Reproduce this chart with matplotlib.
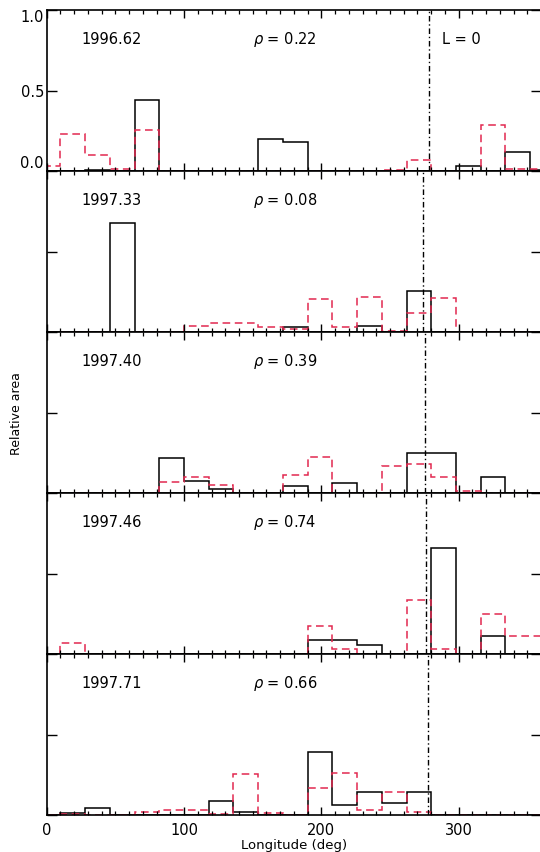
import numpy as np
import matplotlib
matplotlib.use("Agg")
import matplotlib.pyplot as plt

# longitude bin edges (deg), 18 deg bins
edges = [-8, 10, 28, 46, 64, 82, 100, 118, 136, 154, 172, 190, 208,
         226, 244, 262, 280, 298, 316, 334, 352, 370]

dates = ["1996.62", "1997.33", "1997.40", "1997.46", "1997.71"]
rho = ["0.22", "0.08", "0.39", "0.74", "0.66"]
lzero = [278.5, 274.0, 275.5, 276.0, 278.0]

black_1 = [0, 0, 0.01, 0, 0.445, 0, 0, 0, 0, 0.198, 0.184, 0, 0, 0, 0, 0, 0, 0.035, 0, 0.122, 0.005]
red_1 = [0.03, 0.229, 0.102, 0.016, 0.255, 0, 0, 0, 0, 0, 0, 0, 0, 0, 0.01, 0.067, 0, 0, 0.29, 0.016, 0.016]

black_2 = [0, 0, 0, 0.678, 0, 0, 0, 0, 0, 0, 0.035, 0, 0, 0.037, 0, 0.254, 0, 0, 0, 0, 0]
red_2 = [0, 0, 0, 0, 0, 0, 0.041, 0.054, 0.054, 0.035, 0.02, 0.207, 0.031, 0.221, 0.01, 0.118, 0.21, 0, 0, 0, 0]

black_3 = [0, 0, 0, 0, 0, 0.22, 0.078, 0.027, 0, 0, 0.043, 0, 0.061, 0, 0, 0.251, 0.251, 0, 0.098, 0, 0]
red_3 = [0, 0, 0, 0, 0, 0.071, 0.102, 0.053, 0, 0, 0.114, 0.224, 0, 0, 0.169, 0.18, 0.102, 0.012, 0, 0, 0]

black_4 = [0, 0, 0, 0, 0, 0, 0, 0, 0, 0, 0, 0.0875, 0.0875, 0.058, 0, 0, 0.66, 0, 0.115, 0, 0]
red_4 = [0, 0.069, 0, 0, 0, 0, 0, 0, 0, 0, 0, 0.173, 0.031, 0, 0, 0.333, 0.031, 0, 0.25, 0.11, 0.11]

black_5 = [0, 0.01, 0.041, 0, 0, 0, 0, 0.088, 0.02, 0, 0, 0.39, 0.062, 0.14, 0.074, 0.146, 0, 0, 0, 0, 0]
red_5 = [0, 0.006, 0, 0, 0.02, 0.033, 0.033, 0.006, 0.257, 0.01, 0, 0.165, 0.26, 0.031, 0.146, 0.02, 0, 0, 0, 0, 0]

blacks = [black_1, black_2, black_3, black_4, black_5]
reds = [red_1, red_2, red_3, red_4, red_5]

red = "#e2284f"

fig, axes = plt.subplots(5, 1, sharex=True, figsize=(5.4, 8.52), dpi=100)
fig.subplots_adjust(left=0.0865, right=1.002, top=0.988, bottom=0.0434, hspace=0)

for i, ax in enumerate(axes):
    ax.stairs(blacks[i], edges, baseline=0, color="black", lw=1.1)
    ax.stairs(reds[i], edges, baseline=0, color=red, lw=1.1, linestyle=(0, (5, 3)))
    ax.axvline(lzero[i], color="black", lw=1.0, linestyle=(0, (4, 2, 1, 2)))

    ax.set_xlim(0, 360)
    ax.set_ylim(0, 1)
    ax.set_xticks([0, 100, 200, 300])
    ax.set_xticks(np.arange(0, 361, 10), minor=True)
    ax.set_yticks([0, 0.5, 1.0])
    ax.tick_params(axis="x", which="major", direction="in", top=True, length=6, width=1, labelsize=10.5, pad=6)
    ax.tick_params(axis="x", which="minor", direction="in", top=True, length=3, width=0.9)
    ax.tick_params(axis="y", which="major", direction="in", right=True, length=7, width=1, labelsize=10.5, pad=2)
    for s in ax.spines.values():
        s.set_linewidth(1.2)

    if i == 0:
        ax.set_yticklabels(["0.0", "0.5", "1.0"])
        labs = ax.get_yticklabels()
        labs[0].set_va("bottom")
        labs[2].set_va("top")
        ax.text(288, 0.82, "L = 0", fontsize=10.5, va="center")
    else:
        ax.set_yticklabels([])

    ax.text(25, 0.82, dates[i], fontsize=10.5, va="center")
    ax.text(150, 0.82, r"$\rho$ = " + rho[i], fontsize=10.5, va="center")

fig.text(0.031, 0.515, "Relative area", rotation=90, fontsize=9, ha="center", va="center")
fig.text(0.544, 0.0005, "Longitude (deg)", fontsize=9.5, ha="center", va="bottom")

fig.savefig("out.png", dpi=100)
